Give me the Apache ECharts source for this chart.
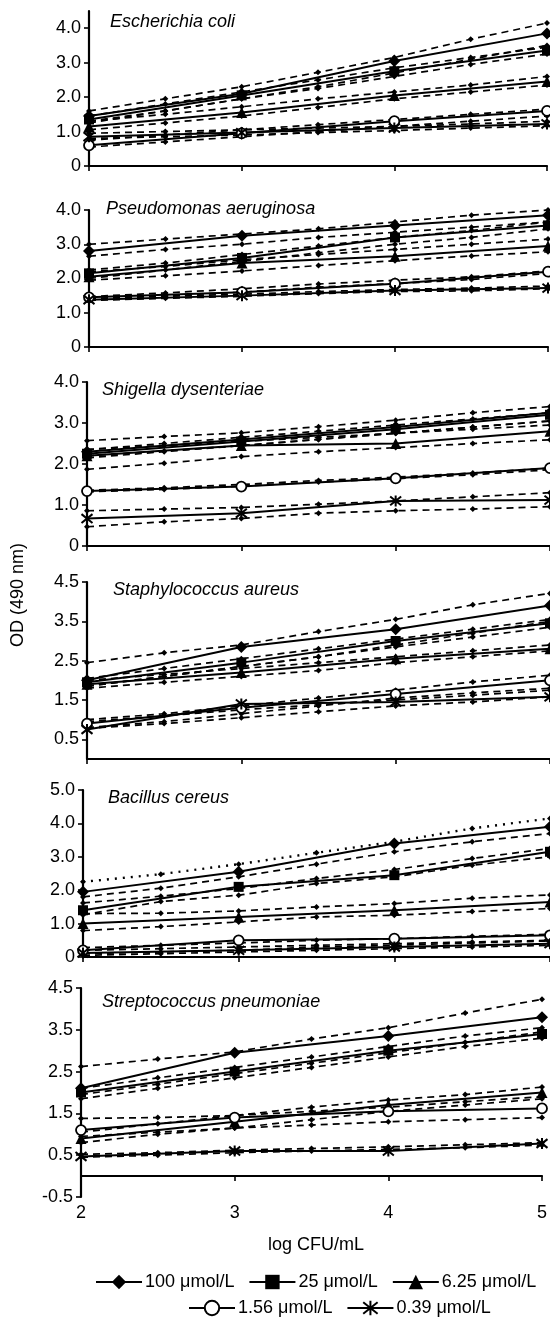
<!DOCTYPE html>
<html><head><meta charset="utf-8">
<script src="https://cdn.jsdelivr.net/npm/echarts@6/dist/echarts.min.js"></script>
<style>html,body{margin:0;padding:0;background:#fff}#c{width:550px;height:1318px}</style>
</head><body><div id="c"></div>
<script>
// ---------- data ----------
const xMarkers = [2, 3, 4, 5];
const xBand = [2, 2.5, 3, 3.5, 4, 4.5, 5];
const seriesNames = ['100 μmol/L', '25 μmol/L', '6.25 μmol/L', '1.56 μmol/L', '0.39 μmol/L'];
const panelTitles = ['Escherichia coli', 'Pseudomonas aeruginosa', 'Shigella dysenteriae',
  'Staphylococcus aureus', 'Bacillus cereus', 'Streptococcus pneumoniae'];
const xAxisTitle = 'log CFU/mL';
const yAxisTitle = 'OD (490 nm)';

const ecoliMean = [[1.45,2.1,3.05,3.85],[1.35,2.05,2.75,3.35],[1.15,1.55,2.05,2.45],[0.6,0.95,1.3,1.6],[0.85,0.97,1.1,1.22]];
const ecoliUpper = [[1.6,1.95,2.3,2.72,3.15,3.68,4.15],[1.45,1.8,2.15,2.5,2.85,3.15,3.45],[1.3,1.5,1.72,1.95,2.15,2.35,2.6],[0.75,0.9,1.05,1.2,1.35,1.5,1.65],[0.95,1.0,1.05,1.1,1.15,1.22,1.3]];
const ecoliLower = [[1.3,1.6,1.95,2.3,2.7,3.1,3.5],[1.25,1.6,1.95,2.25,2.6,2.95,3.25],[1.05,1.25,1.45,1.7,1.95,2.15,2.35],[0.55,0.7,0.85,1.0,1.15,1.3,1.45],[0.8,0.85,0.9,0.97,1.03,1.1,1.17]];

const pseudoMean = [[2.8,3.25,3.55,3.85],[2.15,2.6,3.2,3.55],[2.05,2.45,2.65,2.95],[1.45,1.6,1.85,2.2],[1.38,1.5,1.65,1.72]];
const pseudoUpper = [[3.0,3.15,3.3,3.45,3.65,3.85,4.0],[2.25,2.45,2.7,2.95,3.2,3.4,3.65],[2.2,2.35,2.55,2.7,2.85,3.0,3.15],[1.47,1.58,1.7,1.84,1.95,2.05,2.22],[1.42,1.48,1.54,1.62,1.68,1.72,1.78]];
const pseudoLower = [[2.65,2.85,3.0,3.2,3.35,3.5,3.65],[2.0,2.25,2.5,2.75,3.0,3.2,3.45],[1.95,2.08,2.22,2.38,2.52,2.66,2.78],[1.4,1.5,1.6,1.75,1.85,1.97,2.15],[1.36,1.42,1.48,1.56,1.62,1.64,1.7]];

const shigMean = [[2.3,2.6,2.9,3.25],[2.25,2.55,2.85,3.2],[2.2,2.45,2.5,2.8],[1.34,1.45,1.65,1.9],[0.67,0.8,1.1,1.12]];
const shigUpper = [[2.57,2.67,2.76,2.91,3.07,3.25,3.4],[2.35,2.5,2.65,2.8,2.95,3.1,3.25],[2.35,2.45,2.55,2.65,2.75,2.85,2.95],[1.36,1.42,1.5,1.6,1.68,1.78,1.9],[0.86,0.9,0.94,1.02,1.1,1.2,1.3]];
const shigLower = [[2.2,2.32,2.45,2.6,2.75,2.9,3.05],[2.15,2.3,2.45,2.6,2.75,2.9,3.05],[1.87,2.02,2.18,2.3,2.4,2.5,2.59],[1.32,1.38,1.46,1.56,1.64,1.74,1.86],[0.47,0.59,0.67,0.8,0.86,0.9,0.96]];

const staphMean = [[2.0,2.85,3.3,3.9],[1.95,2.45,3.0,3.45],[1.9,2.2,2.55,2.8],[0.9,1.3,1.65,2.0],[0.75,1.4,1.45,1.58]];
const staphUpper = [[2.45,2.7,2.9,3.24,3.55,3.92,4.21],[2.05,2.3,2.55,2.8,3.05,3.3,3.55],[2.0,2.15,2.3,2.45,2.6,2.75,2.9],[1.0,1.15,1.35,1.55,1.75,1.96,2.13],[0.95,1.1,1.25,1.38,1.5,1.62,1.75]];
const staphLower = [[1.85,2.1,2.35,2.6,2.9,3.2,3.5],[1.85,2.1,2.35,2.6,2.85,3.1,3.35],[1.8,1.95,2.1,2.25,2.45,2.6,2.75],[0.8,0.95,1.15,1.35,1.55,1.68,1.8],[0.78,0.9,1.05,1.2,1.35,1.45,1.58]];

const bacMean = [[1.95,2.55,3.4,3.9],[1.4,2.1,2.45,3.15],[1.0,1.2,1.4,1.65],[0.2,0.5,0.55,0.65],[0.12,0.2,0.3,0.4]];
const bacUpper = [[2.25,2.48,2.78,3.12,3.45,3.85,4.15],[1.62,1.82,2.05,2.35,2.62,2.95,3.25],[1.3,1.31,1.38,1.5,1.6,1.76,1.86],[0.28,0.35,0.42,0.5,0.55,0.62,0.68],[0.2,0.25,0.3,0.35,0.4,0.45,0.5]];
const bacLower = [[1.8,2.06,2.4,2.78,3.15,3.45,3.7],[1.26,1.66,1.85,2.2,2.4,2.75,3.0],[0.79,0.91,1.05,1.2,1.25,1.36,1.45],[0.1,0.15,0.2,0.3,0.35,0.42,0.48],[0.05,0.1,0.15,0.2,0.25,0.3,0.35]];

const strepMean = [[2.1,2.95,3.35,3.8],[2.0,2.5,3.0,3.4],[0.9,1.3,1.7,2.0],[1.1,1.4,1.55,1.62],[0.47,0.6,0.6,0.78]];
const strepUpper = [[2.62,2.8,2.97,3.28,3.55,3.9,4.23],[2.1,2.35,2.6,2.85,3.1,3.35,3.55],[1.05,1.25,1.45,1.65,1.82,1.95,2.13],[1.38,1.4,1.45,1.55,1.65,1.78,1.9],[0.52,0.56,0.62,0.66,0.7,0.75,0.8]];
const strepLower = [[1.95,2.2,2.45,2.7,2.95,3.2,3.45],[1.85,2.1,2.35,2.6,2.85,3.1,3.3],[0.8,1.0,1.15,1.35,1.55,1.7,1.85],[0.95,1.05,1.15,1.22,1.3,1.35,1.4],[0.45,0.5,0.56,0.6,0.64,0.68,0.74]];

const yTicks = [[0,1,2,3,4],[0,1,2,3,4],[0,1,2,3,4],[0.5,1.5,2.5,3.5,4.5],[0,1,2,3,4,5],[-0.5,0.5,1.5,2.5,3.5,4.5]];
const yRanges = [[0,4.5],[0,4],[0,4],[0,4.5],[0,5],[-0.5,4.5]];

// ---------- layout (pixels) ----------
const panelData = [
  [ecoliMean, ecoliUpper, ecoliLower],
  [pseudoMean, pseudoUpper, pseudoLower],
  [shigMean, shigUpper, shigLower],
  [staphMean, staphUpper, staphLower],
  [bacMean, bacUpper, bacLower],
  [strepMean, strepUpper, strepLower]
];
const gridBox = [
  {left: 89, right: 3, top: 11, height: 155},
  {left: 89, right: 2, top: 210, height: 137},
  {left: 87, right: 0, top: 382, height: 164},
  {left: 87, right: 0, top: 582, height: 177},
  {left: 83, right: 0, top: 790, height: 167},
  {left: 81, right: 1, top: 988, height: 209}
];
const titlePos = [[110,22],[106,209],[102,390],[113,590],[108,798],[102,1002]];

const FONT = "'Liberation Sans', Arial, Helvetica, sans-serif";
const symbols = ['diamond', 'rect', 'triangle', 'circle', 'path://M1,1L9,9M9,1L1,9M5,0L5,10'];
const symbolSizes = [12, 10, 11, 10, 11];
const symbolStyles = [
  {color: '#000'}, {color: '#000'}, {color: '#000'},
  {color: '#fff', borderColor: '#000', borderWidth: 1.8},
  {color: '#000', borderColor: '#000', borderWidth: 2}
];

const fmt = v => (v === 0 ? '0' : v.toFixed(1));

const grids = [], xAxes = [], yAxes = [], series = [];
gridBox.forEach((g, i) => {
  grids.push(Object.assign({containLabel: false}, g));
  xAxes.push({
    gridIndex: i, type: 'value', min: 2, max: 5, interval: 1,
    axisLine: {show: true, onZero: true, lineStyle: {color: '#000', width: 2.2}},
    axisTick: {show: true, length: 5, lineStyle: {color: '#000', width: 1.6}},
    axisLabel: {show: false}, splitLine: {show: false}
  });
  yAxes.push({
    gridIndex: i, type: 'value', min: yRanges[i][0], max: yRanges[i][1],
    axisLine: {show: true, lineStyle: {color: '#000', width: 2.2}},
    axisTick: {show: true, length: 5, lineStyle: {color: '#000', width: 1.6}, customValues: yTicks[i]},
    axisLabel: {customValues: yTicks[i], formatter: fmt, color: '#000', fontSize: 18, fontFamily: FONT, margin: 8},
    splitLine: {show: false}
  });
  const [mean, upper, lower] = panelData[i];
  for (let j = 0; j < 5; j++) {
    [upper[j], lower[j]].forEach((band, b) => {
      const dotted = (i === 4 && j === 0 && b === 0);
      series.push({
        type: 'line', xAxisIndex: i, yAxisIndex: i, silent: true, z: 2, clip: false,
        data: xBand.map((x, k) => [x, band[k]]),
        symbol: 'diamond', symbolSize: 6, showSymbol: true,
        lineStyle: {color: '#000', width: dotted ? 2.4 : 1.7, type: dotted ? [2, 6] : [7, 5]},
        itemStyle: {color: '#000'}, animation: false
      });
    });
    series.push({
      type: 'line', name: seriesNames[j], xAxisIndex: i, yAxisIndex: i, z: 4, clip: false,
      data: xMarkers.map((x, k) => [x, mean[j][k]]),
      symbol: symbols[j], symbolSize: symbolSizes[j], showSymbol: true,
      lineStyle: {color: '#000', width: 2},
      itemStyle: symbolStyles[j], animation: false
    });
  }
});
// labels-only axis for the bottom panel
xAxes.push({
  gridIndex: 5, type: 'value', min: 2, max: 5, interval: 1, position: 'bottom',
  axisLine: {show: false, onZero: false}, axisTick: {show: false}, splitLine: {show: false},
  axisLabel: {show: true, color: '#000', fontSize: 18, fontFamily: FONT, margin: 7,
    formatter: v => String(v)}
});

const graphics = panelTitles.map((t, i) => ({
  type: 'text', x: titlePos[i][0], y: titlePos[i][1],
  style: {text: t, font: 'italic 18px ' + FONT, fill: '#000', verticalAlign: 'middle'}
}));
graphics.push({type: 'text', x: 316, y: 1245,
  style: {text: xAxisTitle, font: '18px ' + FONT, fill: '#000', align: 'center', verticalAlign: 'middle'}});
graphics.push({type: 'text', x: 18, y: 595, rotation: Math.PI / 2,
  style: {text: yAxisTitle, font: '18px ' + FONT, fill: '#000', align: 'center', verticalAlign: 'middle'}});

const legendCommon = {
  itemWidth: 46, itemHeight: 18, itemGap: 14,
  textStyle: {color: '#000', fontSize: 18, fontFamily: FONT, padding: [0, 0, 0, -2]},
  selectedMode: false
};
const option = {
  backgroundColor: '#fff',
  animation: false,
  grid: grids, xAxis: xAxes, yAxis: yAxes, series: series,
  legend: [
    Object.assign({}, legendCommon, {data: seriesNames.slice(0, 3), top: 1268, left: 90}),
    Object.assign({}, legendCommon, {data: seriesNames.slice(3), top: 1294, left: 183})
  ],
  graphic: graphics
};
const chart = echarts.init(document.getElementById('c'), null, {renderer: 'canvas'});
chart.setOption(option);
</script></body></html>
